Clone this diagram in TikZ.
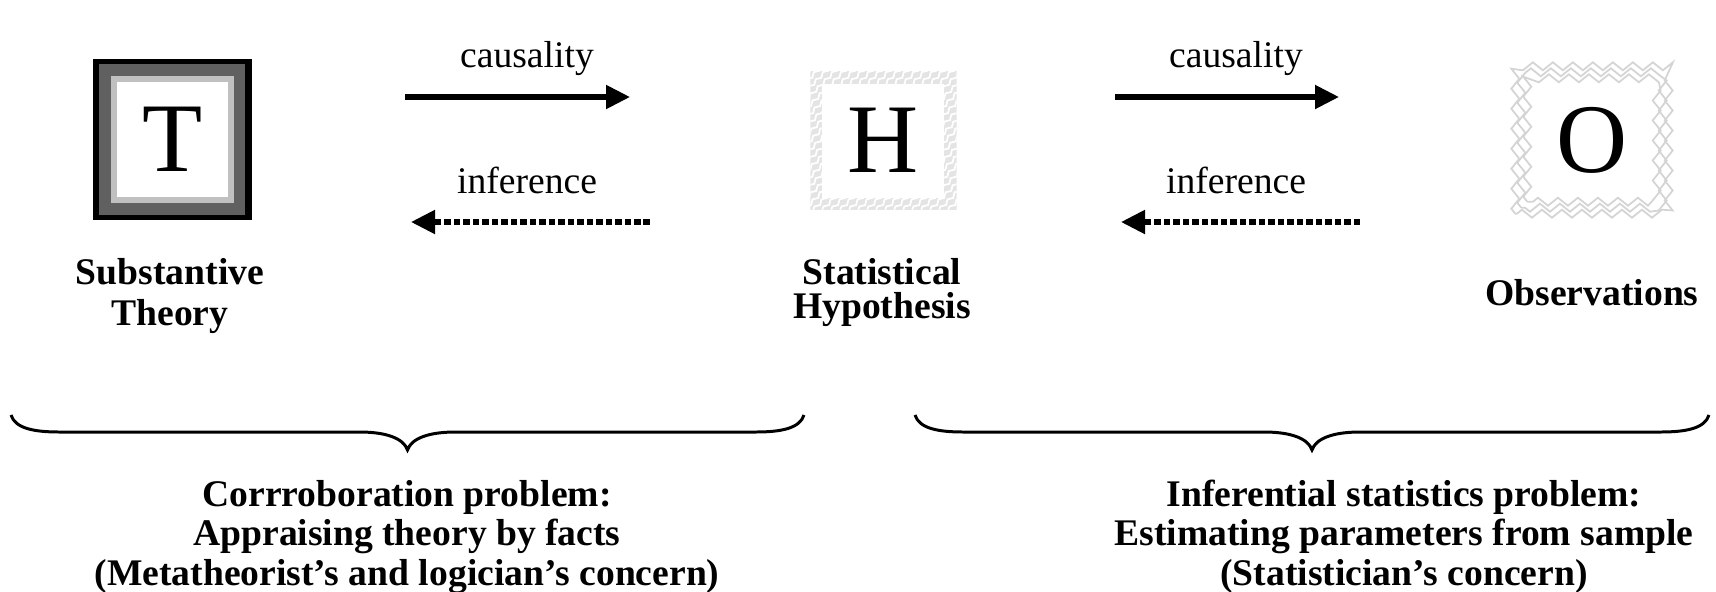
\documentclass[tikz,border=0pt]{standalone}
\usepackage{fontspec}
\setmainfont{Liberation Serif}
\definecolor{framedark}{RGB}{96,96,96}
\definecolor{framelight}{RGB}{192,192,192}
\definecolor{bandgray}{RGB}{228,228,228}
\definecolor{zigzaggray}{RGB}{212,212,212}
\usetikzlibrary{arrows.meta,backgrounds,decorations.pathmorphing}

\begin{document}
\begin{tikzpicture}[
    letterbox/.style={rectangle, inner sep=0pt, font=\fontsize{28}{28}\selectfont},
    caption/.style={font=\bfseries\fontsize{10.7}{11.2}\selectfont, align=center, anchor=base},
    arrowlabel/.style={font=\fontsize{10.7}{12}\selectfont, anchor=base},
    causal/.style={line width=1.45pt, -{Triangle[length=0.24cm, width=0.23cm]}},
    infer/.style={line width=1.45pt, dash pattern=on 1.85pt off 0.85pt,
                  -{Triangle[length=0.24cm, width=0.23cm]}},
    bracepen/.style={line width=0.85pt}
  ]
    \useasboundingbox (0,0) rectangle (17.16,-5.91);

    % Letter boxes
    \node[letterbox, minimum width=1.57cm, minimum height=1.59cm] (T) at (1.725,-1.395) {T};
    \node[letterbox, minimum width=1.45cm, minimum height=1.37cm] (H) at (8.835,-1.405) {H};
    \node[letterbox, minimum width=1.60cm, minimum height=1.54cm] (O) at (15.92,-1.40) {O};

    \begin{scope}[on background layer]
      % T: shadowed frame
      \fill[black] (T.south west) rectangle (T.north east);
      \fill[framedark] ([shift={(0.06,0.05)}]T.south west) rectangle ([shift={(-0.07,-0.05)}]T.north east);
      \fill[framelight] ([shift={(0.175,0.17)}]T.south west) rectangle ([shift={(-0.18,-0.17)}]T.north east);
      \fill[white] ([shift={(0.24,0.23)}]T.south west) rectangle ([shift={(-0.24,-0.23)}]T.north east);

      % H: hatched band
      \begin{scope}
        \clip (H.south west) rectangle (H.north east);
        \fill[bandgray] (H.south west) rectangle (H.north east);
        \foreach \d in {0,0.09,...,3.0}
          \draw[white, line width=0.5pt, decorate,
                decoration={snake, segment length=1mm, amplitude=0.15mm}]
            ([xshift={(\d-1.5)*1cm}]H.south west) -- ++(1.5,1.5);
      \end{scope}
      \fill[white] ([shift={(0.12,0.12)}]H.south west) rectangle ([shift={(-0.13,-0.13)}]H.north east);

      % O: zigzag band
      \foreach \o in {0.04,0.10,0.16}
        \draw[zigzaggray, line width=0.5pt, decorate,
              decoration={zigzag, segment length=2mm, amplitude=0.4mm}]
          ([shift={(\o,\o)}]O.south west) rectangle ([shift={(-\o,-\o)}]O.north east);
    \end{scope}

    % Captions under the boxes (anchored at the last line)
    \node[caption, font=\bfseries\fontsize{10.7}{11.4}\selectfont] (st) at (1.70,-3.25) {Substantive\\Theory};
    \node[caption, font=\bfseries\fontsize{10.7}{9.4}\selectfont] (sh) at (8.82,-3.18) {Statistical\\Hypothesis};
    \node[caption] (ob) at (15.92,-3.05) {Observations};

    % Arrows between T and H
    \coordinate (ca1) at (4.05,-0.97);
    \coordinate (cb1) at (6.30,-0.97);
    \coordinate (ia1) at (6.50,-2.22);
    \coordinate (ib1) at (4.11,-2.22);
    \draw[causal] (ca1) -- (cb1);
    \draw[infer] (ia1) -- (ib1);
    \node[arrowlabel] (cl1) at (5.27,-0.67) {causality};
    \node[arrowlabel] (il1) at (5.27,-1.93) {inference};

    % Arrows between H and O
    \coordinate (ca2) at (11.15,-0.97);
    \coordinate (cb2) at (13.39,-0.97);
    \coordinate (ia2) at (13.60,-2.22);
    \coordinate (ib2) at (11.21,-2.22);
    \draw[causal] (ca2) -- (cb2);
    \draw[infer] (ia2) -- (ib2);
    \node[arrowlabel] (cl2) at (12.36,-0.67) {causality};
    \node[arrowlabel] (il2) at (12.36,-1.93) {inference};

    % Braces
    \foreach \l/\r in {0.11/8.04, 9.15/17.09}{
      \pgfmathsetmacro{\m}{(\l+\r)/2}
      \draw[bracepen] (\l,-4.15) .. controls (\l+0.04,-4.28) and (\l+0.22,-4.32) .. (\l+0.48,-4.32)
        -- (\m-0.48,-4.32) .. controls (\m-0.22,-4.32) and (\m-0.04,-4.38) .. (\m,-4.50)
        .. controls (\m+0.04,-4.38) and (\m+0.22,-4.32) .. (\m+0.48,-4.32)
        -- (\r-0.48,-4.32) .. controls (\r-0.22,-4.32) and (\r-0.04,-4.28) .. (\r,-4.15);
    }

    % Problem statements
    \node[caption] (cp) at (4.07,-5.85)
      {Corrroboration problem:\\Appraising theory by facts\\(Metatheorist’s and logician’s concern)};
    \node[caption] (ip) at (14.04,-5.85)
      {Inferential statistics problem:\\Estimating parameters from sample\\(Statistician’s concern)};
\end{tikzpicture}
\end{document}
